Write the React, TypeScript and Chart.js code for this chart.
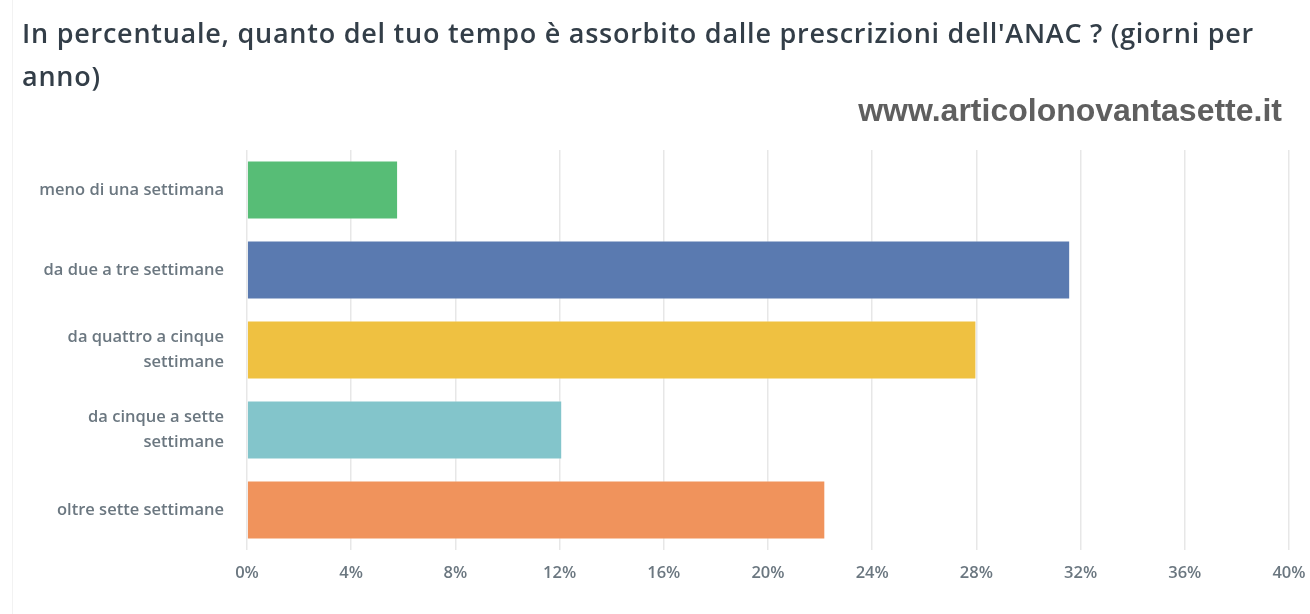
import React, { useEffect, useRef } from 'react';
import { Chart, registerables } from 'chart.js';

Chart.register(...registerables);

const titleLines = [
  "In percentuale, quanto del tuo tempo è assorbito dalle prescrizioni dell'ANAC ? (giorni per",
  'anno)',
];
const watermark = 'www.articolonovantasette.it';

const categories: (string | string[])[] = [
  'meno di una settimana',
  'da due a tre settimane',
  ['da quattro a cinque', 'settimane'],
  ['da cinque a sette', 'settimane'],
  'oltre sette settimane',
];
const percentages = [5.8, 31.6, 28.0, 12.1, 22.2];
const barColors = ['#57bd76', '#5a7ab0', '#efc141', '#83c5cb', '#f0935c'];

const axisMin = 0;
const axisMax = 40;
const axisStep = 4;

const labelColor = '#6b7780';

const App: React.FC = () => {
  const canvasRef = useRef<HTMLCanvasElement | null>(null);
  const chartRef = useRef<Chart | null>(null);

  useEffect(() => {
    document.body.style.margin = '0';
    const ctx = canvasRef.current?.getContext('2d');
    if (!ctx) return;

    chartRef.current = new Chart(ctx, {
      type: 'bar',
      data: {
        labels: categories,
        datasets: [
          {
            data: percentages,
            backgroundColor: barColors,
            borderColor: 'rgba(255,255,255,0.5)',
            borderWidth: 1,
            barPercentage: 0.74,
            categoryPercentage: 1,
          },
        ],
      },
      options: {
        indexAxis: 'y',
        animation: false,
        responsive: true,
        maintainAspectRatio: false,
        layout: {
          padding: { left: 22, right: 21, top: 150, bottom: 18 },
        },
        plugins: {
          legend: { display: false },
          tooltip: { enabled: false },
        },
        scales: {
          x: {
            min: axisMin,
            max: axisMax,
            grid: {
              color: '#e7e7e7',
              lineWidth: 1.5,
              drawTicks: false,
            },
            border: { display: false },
            ticks: {
              stepSize: axisStep,
              padding: 13,
              color: labelColor,
              font: { family: 'Open Sans', size: 16.5, weight: 600 },
              callback: (value) => `${value}%`,
            },
            afterFit: (scale) => {
              scale.height = 46;
              scale.paddingLeft = 0;
              scale.paddingRight = 0;
            },
          },
          y: {
            grid: { display: false, drawTicks: false },
            border: { display: false },
            ticks: {
              padding: 23,
              color: labelColor,
              font: { family: 'Open Sans', size: 16.5, weight: 600, lineHeight: 1.52 },
            },
            afterFit: (scale) => {
              scale.width = 225;
            },
          },
        },
      },
    });

    return () => {
      if (chartRef.current) {
        chartRef.current.destroy();
        chartRef.current = null;
      }
    };
  }, []);

  return (
    <div style={{ position: 'relative', width: 1310, height: 614, background: '#fff', overflow: 'hidden' }}>
      <div
        style={{
          position: 'absolute',
          left: 12,
          top: 0,
          width: 1,
          height: 614,
          background: '#f2f2f2',
        }}
      />
      <div
        style={{
          position: 'absolute',
          left: 22,
          top: 11,
          fontFamily: 'Open Sans',
          fontWeight: 600,
          fontSize: 27,
          lineHeight: '43px',
          letterSpacing: '0.75px',
          color: '#333e48',
          whiteSpace: 'nowrap',
        }}
      >
        {titleLines.map((line) => (
          <div key={line}>{line}</div>
        ))}
      </div>
      <div
        style={{
          position: 'absolute',
          right: 28,
          top: 91,
          fontFamily: 'Liberation Sans',
          fontWeight: 'bold',
          fontSize: 32,
          lineHeight: '38px',
          color: '#5f5f5f',
          whiteSpace: 'nowrap',
        }}
      >
        {watermark}
      </div>
      <canvas ref={canvasRef} />
    </div>
  );
};

export default App;
